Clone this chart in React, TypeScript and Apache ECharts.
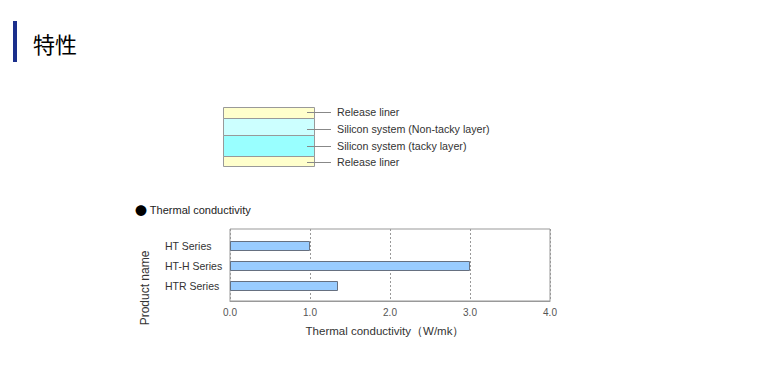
import React, { useEffect, useRef } from "react";
import * as echarts from "echarts";

const categories = ["HT Series", "HT-H Series", "HTR Series"];
const conductivity = [1.0, 3.0, 1.35];
const xTicks = [0, 1, 2, 3, 4];
const layerLabels = [
  "Release liner",
  "Silicon system (Non-tacky layer)",
  "Silicon system (tacky layer)",
  "Release liner",
];

const FONT = "'Liberation Sans', Arial, sans-serif";

export default function App() {
  const ref = useRef<HTMLDivElement>(null);
  useEffect(() => {
    if (!ref.current) return;
    const chart = echarts.init(ref.current, null, { renderer: "svg" });
    const layerFills = ["#ffffcc", "#ccffff", "#99ffff", "#ffffcc"];
    const layerBounds = [107, 118, 135, 156, 166];
    const layerLabelY = [112, 129, 146, 162];
    const graphics: any[] = [
      { type: "rect", shape: { x: 13, y: 21, width: 4, height: 41 }, style: { fill: "#1b2f8c" } },
      {
        type: "text",
        x: 33,
        y: 43,
        style: { text: "特性", font: "22px 'Noto Sans CJK JP', sans-serif", fill: "#000", verticalAlign: "middle" },
      },
      {
        type: "text",
        x: 135,
        y: 210,
        style: {
          text: "{b|●} Thermal conductivity",
          font: `11px ${FONT}`,
          fill: "#222",
          verticalAlign: "middle",
          rich: { b: { fontSize: 12, fontFamily: "'Noto Sans CJK JP', sans-serif", fill: "#000" } },
        },
      },
      {
        type: "text",
        x: 145,
        y: 288,
        rotation: Math.PI / 2,
        style: { text: "Product name", font: `12px ${FONT}`, fill: "#333", align: "center", verticalAlign: "middle" },
      },
    ];
    layerFills.forEach((f, i) => {
      graphics.push({
        type: "rect",
        shape: { x: 223.5, y: layerBounds[i] + 0.5, width: 91, height: layerBounds[i + 1] - layerBounds[i] },
        style: { fill: f, stroke: "#999", lineWidth: 1 },
      });
    });
    layerLabels.forEach((t, i) => {
      graphics.push({
        type: "line",
        shape: { x1: 307, y1: layerLabelY[i] + 0.5, x2: 331, y2: layerLabelY[i] + 0.5 },
        style: { stroke: "#888", lineWidth: 1 },
      });
      graphics.push({
        type: "text",
        x: 337,
        y: layerLabelY[i],
        style: { text: t, font: `10.7px ${FONT}`, fill: "#333", verticalAlign: "middle" },
      });
    });

    chart.setOption({
      animation: false,
      grid: [
        { left: 230, top: 229, width: 320, height: 72, show: true, borderColor: "#999", borderWidth: 1, backgroundColor: "#fff" },
        { left: 230, top: 236, width: 320, height: 60 },
      ],
      xAxis: [
        {
          type: "value",
          gridIndex: 0,
          min: xTicks[0],
          max: xTicks[xTicks.length - 1],
          interval: 1,
          axisLine: { show: true, lineStyle: { color: "#999" } },
          axisTick: { show: false },
          splitLine: { show: true, lineStyle: { color: "#999", type: [2, 2] } },
          axisLabel: {
            formatter: (v: number) => v.toFixed(1),
            fontSize: 10,
            color: "#555",
            fontFamily: FONT,
            margin: 6,
          },
          name: "Thermal conductivity（W/mk）",
          nameLocation: "middle",
          nameGap: 24,
          nameTextStyle: { fontSize: 11.5, color: "#333", fontFamily: FONT, padding: [0, 10, 0, 0] },
        },
        { type: "value", gridIndex: 1, min: 0, max: 4, show: false },
      ],
      yAxis: [
        { type: "value", gridIndex: 0, show: false, min: 0, max: 1 },
        {
          type: "category",
          gridIndex: 1,
          data: categories,
          inverse: true,
          axisLine: { show: false },
          axisTick: { show: false },
          axisLabel: { align: "left", margin: 65, fontSize: 10.5, color: "#333", fontFamily: FONT },
        },
      ],
      series: [
        {
          type: "bar",
          xAxisIndex: 1,
          yAxisIndex: 1,
          data: conductivity,
          barWidth: 10,
          itemStyle: { color: "#99ccff", borderColor: "#667080", borderWidth: 1 },
        },
      ],
      graphic: graphics,
    });
    return () => chart.dispose();
  }, []);
  return <div ref={ref} style={{ position: "fixed", left: 0, top: 0, width: 760, height: 376, background: "#fff" }} />;
}
